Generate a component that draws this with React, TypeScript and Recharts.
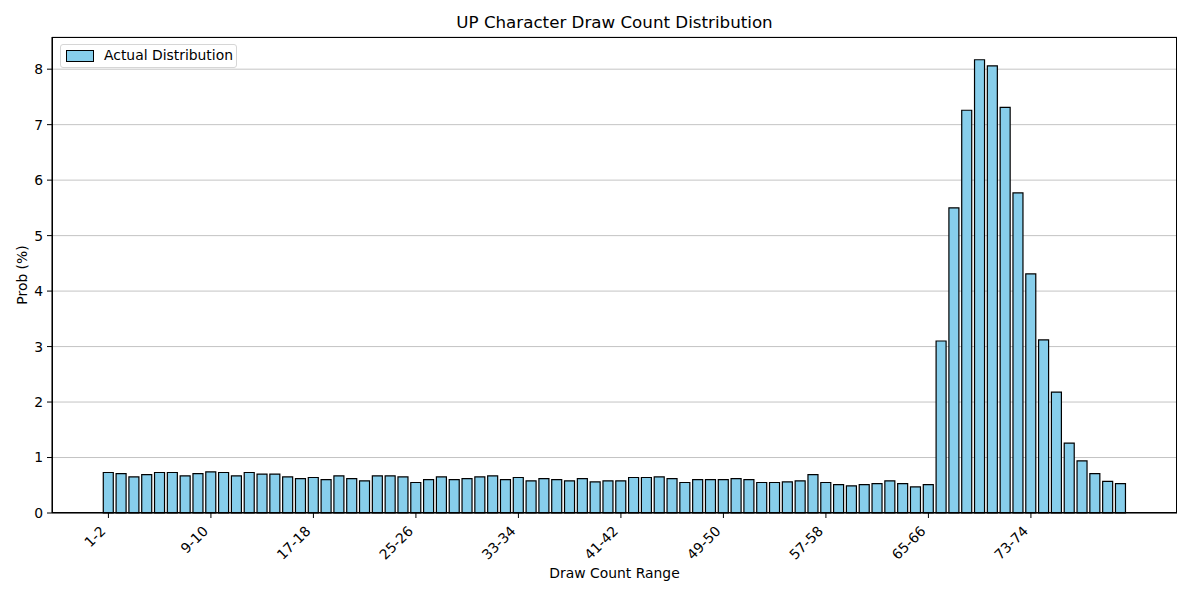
import React from 'react'
import {
  BarChart,
  Bar,
  XAxis,
  YAxis,
  CartesianGrid,
  Legend
} from 'recharts'

const ranges = [
  '1-2', '2-3', '3-4', '4-5', '5-6', '6-7', '7-8', '8-9', '9-10', '10-11',
  '11-12', '12-13', '13-14', '14-15', '15-16', '16-17', '17-18', '18-19', '19-20', '20-21',
  '21-22', '22-23', '23-24', '24-25', '25-26', '26-27', '27-28', '28-29', '29-30', '30-31',
  '31-32', '32-33', '33-34', '34-35', '35-36', '36-37', '37-38', '38-39', '39-40', '40-41',
  '41-42', '42-43', '43-44', '44-45', '45-46', '46-47', '47-48', '48-49', '49-50', '50-51',
  '51-52', '52-53', '53-54', '54-55', '55-56', '56-57', '57-58', '58-59', '59-60', '60-61',
  '61-62', '62-63', '63-64', '64-65', '65-66', '66-67', '67-68', '68-69', '69-70', '70-71',
  '71-72', '72-73', '73-74', '74-75', '75-76', '76-77', '77-78', '78-79', '79-80', '80-81'
]

const probs = [
  0.73, 0.71, 0.65, 0.69, 0.73, 0.73, 0.67, 0.71, 0.74, 0.73,
  0.67, 0.73, 0.70, 0.70, 0.65, 0.62, 0.64, 0.60, 0.67, 0.62,
  0.58, 0.67, 0.67, 0.65, 0.55, 0.60, 0.65, 0.60, 0.62, 0.65,
  0.67, 0.60, 0.64, 0.58, 0.62, 0.60, 0.58, 0.62, 0.56, 0.58,
  0.58, 0.64, 0.64, 0.65, 0.62, 0.55, 0.60, 0.60, 0.60, 0.62,
  0.60, 0.55, 0.55, 0.56, 0.58, 0.69, 0.55, 0.51, 0.49, 0.51,
  0.53, 0.58, 0.53, 0.47, 0.51, 3.10, 5.50, 7.26, 8.17, 8.06,
  7.31, 5.77, 4.31, 3.12, 2.18, 1.26, 0.94, 0.71, 0.57, 0.53
]

const yTicks = [0, 1, 2, 3, 4, 5, 6, 7, 8]

const data = ranges.map((range, i) => ({ range, prob: probs[i] }))

const FONT = 'DejaVu Sans, sans-serif'

function RotatedTick (props: any) {
  const { x, y, payload } = props
  return (
    <g transform={`translate(${x - 2},${y + 12}) rotate(-45)`}>
      <text x={0} y={0} textAnchor="end" fontSize={13.9} fill="#000" fontFamily={FONT}>
        {payload.value}
      </text>
    </g>
  )
}

function LegendBox () {
  return (
    <div
      style={{
        width: 175,
        height: 22,
        border: '1px solid #d6d6d6',
        borderRadius: 3,
        background: 'rgba(255,255,255,0.8)',
        position: 'relative',
        fontFamily: FONT,
        fontSize: 13.9
      }}
    >
      <div
        style={{
          position: 'absolute',
          left: 5,
          top: 5,
          width: 26,
          height: 10,
          background: '#87CEEB',
          border: '1px solid #000'
        }}
      />
      <span style={{ position: 'absolute', left: 43, top: 2, color: '#000', whiteSpace: 'nowrap' }}>
        Actual Distribution
      </span>
    </div>
  )
}

export default function App () {
  return (
    <div style={{ position: 'absolute', left: 0, top: 0, width: 1192, height: 596, background: '#fff' }}>
      <div
        style={{
          position: 'absolute',
          left: 52,
          width: 1125,
          top: 12,
          textAlign: 'center',
          fontFamily: FONT,
          fontSize: 16.7,
          color: '#000'
        }}
      >
        UP Character Draw Count Distribution
      </div>
      <BarChart
        width={1192}
        height={596}
        data={data}
        margin={{ top: 37, right: 15, left: 0, bottom: 0 }}
        barCategoryGap="10%"
      >
        <XAxis
          dataKey="range"
          type="category"
          interval={7}
          padding={{ left: 50, right: 50 }}
          height={83}
          tickSize={5}
          tickMargin={2}
          tickLine={{ stroke: '#000' }}
          axisLine={{ stroke: '#000', strokeWidth: 1.1 }}
          tick={<RotatedTick />}
          label={{
            value: 'Draw Count Range',
            position: 'insideBottom',
            offset: 18,
            fill: '#000',
            fontSize: 13.9,
            fontFamily: FONT
          }}
        />
        <YAxis
          type="number"
          domain={[0, 8.58]}
          ticks={yTicks}
          width={52}
          tickSize={5}
          tickMargin={4}
          tickLine={{ stroke: '#000' }}
          axisLine={{ stroke: '#000', strokeWidth: 1.1 }}
          tick={{ fill: '#000', fontSize: 13.9, fontFamily: FONT }}
          label={{
            value: 'Prob (%)',
            angle: -90,
            position: 'center',
            dx: -4,
            fill: '#000',
            fontSize: 13.9,
            fontFamily: FONT
          }}
        />
        <Bar
          dataKey="prob"
          name="Actual Distribution"
          fill="#87CEEB"
          stroke="#000"
          strokeWidth={1.2}
          isAnimationActive={false}
        />
        <CartesianGrid
          vertical={false}
          horizontal
          stroke="#b0b0b0"
          strokeOpacity={0.75}
          strokeWidth={1}
        />
        <Legend
          layout="vertical"
          align="center"
          verticalAlign="middle"
          content={<LegendBox />}
          wrapperStyle={{ position: 'absolute', left: 60, top: 44, width: 177, height: 24 }}
        />
      </BarChart>
      <div
        style={{
          position: 'absolute',
          left: 52,
          top: 37,
          width: 1125,
          height: 476,
          boxSizing: 'border-box',
          border: '1px solid #000',
          pointerEvents: 'none'
        }}
      />
    </div>
  )
}
